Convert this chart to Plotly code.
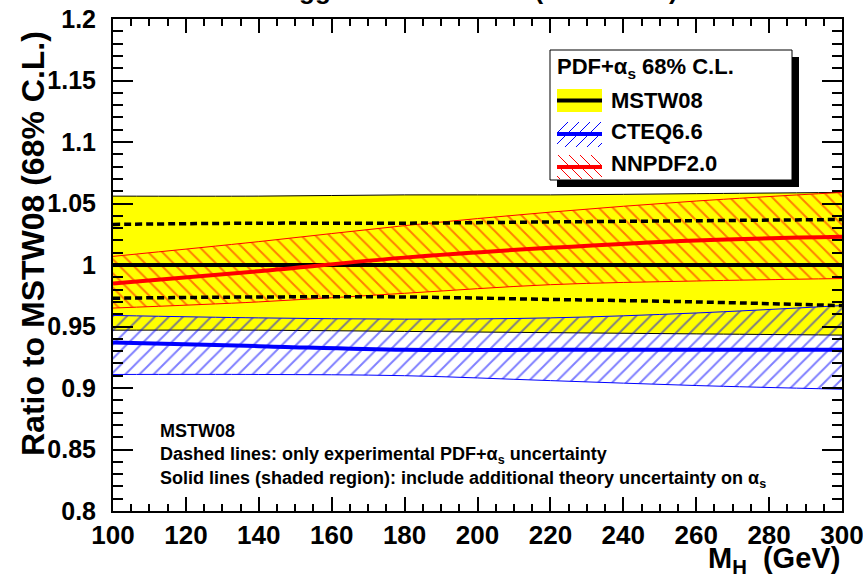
import plotly.graph_objects as go

# ---------------- data ----------------
mass = [100, 140, 180, 220, 260, 300]

mstw_central = [1.000, 1.000, 1.000, 1.000, 1.000, 1.000]
mstw_tot_hi = [1.056, 1.056, 1.057, 1.057, 1.058, 1.059]
mstw_tot_lo = [0.947, 0.947, 0.946, 0.945, 0.944, 0.943]
mstw_exp_hi = [1.033, 1.034, 1.034, 1.035, 1.036, 1.037]
mstw_exp_lo = [0.973, 0.974, 0.974, 0.972, 0.970, 0.967]

cteq_central = [0.937, 0.934, 0.931, 0.931, 0.931, 0.931]
cteq_hi = [0.959, 0.957, 0.956, 0.957, 0.961, 0.967]
cteq_lo = [0.911, 0.911, 0.910, 0.906, 0.902, 0.899]

nnpdf_central = [0.985, 0.995, 1.006, 1.014, 1.020, 1.023]
nnpdf_hi = [1.007, 1.019, 1.032, 1.043, 1.052, 1.059]
nnpdf_lo = [0.965, 0.970, 0.977, 0.984, 0.987, 0.989]

y_ticks = [0.8, 0.85, 0.9, 0.95, 1.0, 1.05, 1.1, 1.15, 1.2]
y_ticktext = ["0.8", "0.85", "0.9", "0.95", "1", "1.05", "1.1", "1.15", "1.2"]
x_ticks = [100, 120, 140, 160, 180, 200, 220, 240, 260, 280, 300]

# ---------------- layout geometry ----------------
W, H = 863, 581
L, R, T, B = 113, 21, 19, 70
PW, PH = W - L - R, H - T - B
FONT = "Liberation Sans, Arial, Helvetica, sans-serif"


def px(xp):
    return (xp - L) / PW


def py(yp):
    return (H - B - yp) / PH


fig = go.Figure()

# MSTW08 total band (yellow)
fig.add_trace(go.Scatter(x=mass, y=mstw_tot_lo, mode="lines", line=dict(color="black", width=1, shape="spline"),
                         showlegend=False, hoverinfo="skip"))
fig.add_trace(go.Scatter(x=mass, y=mstw_tot_hi, mode="lines", line=dict(color="black", width=1, shape="spline"),
                         fill="tonexty", fillcolor="#ffff00", showlegend=False, hoverinfo="skip"))

# CTEQ6.6 band (blue hatch)
fig.add_trace(go.Scatter(x=mass, y=cteq_lo, mode="lines", line=dict(color="#0000ff", width=1, shape="spline"),
                         showlegend=False, hoverinfo="skip"))
fig.add_trace(go.Scatter(x=mass, y=cteq_hi, mode="lines", line=dict(color="#0000ff", width=1, shape="spline"),
                         fill="tonexty",
                         fillpattern=dict(shape="/", fgcolor="#0000ff", bgcolor="rgba(0,0,0,0)", size=10, solidity=0.2),
                         showlegend=False, hoverinfo="skip"))

# NNPDF2.0 band (red hatch)
fig.add_trace(go.Scatter(x=mass, y=nnpdf_lo, mode="lines", line=dict(color="#ff0000", width=1, shape="spline"),
                         showlegend=False, hoverinfo="skip"))
fig.add_trace(go.Scatter(x=mass, y=nnpdf_hi, mode="lines", line=dict(color="#ff0000", width=1, shape="spline"),
                         fill="tonexty",
                         fillpattern=dict(shape="\\", fgcolor="#ff0000", bgcolor="rgba(0,0,0,0)", size=10, solidity=0.2),
                         showlegend=False, hoverinfo="skip"))

# MSTW08 experimental-only (dashed)
for arr in (mstw_exp_hi, mstw_exp_lo):
    fig.add_trace(go.Scatter(x=mass, y=arr, mode="lines",
                             line=dict(color="black", width=3.5, dash="7px,4px", shape="spline"),
                             showlegend=False, hoverinfo="skip"))

# central lines
fig.add_trace(go.Scatter(x=mass, y=mstw_central, mode="lines", line=dict(color="black", width=4),
                         showlegend=False, hoverinfo="skip"))
fig.add_trace(go.Scatter(x=mass, y=cteq_central, mode="lines", line=dict(color="#0000ff", width=4, shape="spline"),
                         showlegend=False, hoverinfo="skip"))
fig.add_trace(go.Scatter(x=mass, y=nnpdf_central, mode="lines", line=dict(color="#ff0000", width=4, shape="spline"),
                         showlegend=False, hoverinfo="skip"))

shapes = []
annotations = []

# ---------------- custom legend ----------------
shapes.append(dict(type="rect", xref="paper", yref="paper", x0=px(557), x1=px(799), y0=py(187), y1=py(57),
                   fillcolor="black", line=dict(width=0), layer="above"))
shapes.append(dict(type="rect", xref="paper", yref="paper", x0=px(550), x1=px(792), y0=py(180), y1=py(50),
                   fillcolor="white", line=dict(color="black", width=1), layer="above"))
# MSTW08 symbol
shapes.append(dict(type="rect", xref="paper", yref="paper", x0=px(557), x1=px(602), y0=py(112), y1=py(89),
                   fillcolor="#ffff00", line=dict(width=0), layer="above"))
shapes.append(dict(type="line", xref="paper", yref="paper", x0=px(557), x1=px(602), y0=py(100.5), y1=py(100.5),
                   line=dict(color="black", width=4), layer="above"))


def hatch(x0, x1, ytop, ybot, spacing, forward, color):
    hgt = ybot - ytop
    out = []
    s = x0 - hgt
    while s < x1:
        xa, ya, xb, yb = s, ybot, s + hgt, ytop
        if xa < x0:
            ya = ya - (x0 - xa)
            xa = x0
        if xb > x1:
            yb = yb + (xb - x1)
            xb = x1
        if xb > xa:
            if not forward:
                xa, xb = x0 + x1 - xa, x0 + x1 - xb
            out.append(dict(type="line", xref="paper", yref="paper", x0=px(xa), x1=px(xb), y0=py(ya), y1=py(yb),
                            line=dict(color=color, width=1), layer="above"))
        s += spacing
    return out


shapes += hatch(557, 602, 122, 147, 11, True, "#0000ff")
shapes.append(dict(type="line", xref="paper", yref="paper", x0=px(557), x1=px(602), y0=py(134), y1=py(134),
                   line=dict(color="#0000ff", width=4), layer="above"))
shapes += hatch(557, 602, 155, 179, 11, False, "#ff0000")
shapes.append(dict(type="line", xref="paper", yref="paper", x0=px(557), x1=px(602), y0=py(167), y1=py(167),
                   line=dict(color="#ff0000", width=4), layer="above"))

annotations.append(dict(text="PDF+α<sub>s</sub> 68% C.L.", xref="paper", yref="paper", x=px(555), y=py(68),
                        xanchor="left", yanchor="middle", showarrow=False,
                        font=dict(family=FONT, size=22, color="black", weight="bold")))
for label, yc in (("MSTW08", 101), ("CTEQ6.6", 132), ("NNPDF2.0", 163)):
    annotations.append(dict(text=label, xref="paper", yref="paper", x=px(609), y=py(yc),
                            xanchor="left", yanchor="middle", showarrow=False,
                            font=dict(family=FONT, size=22, color="black", weight="bold")))

# ---------------- in-plot notes ----------------
note_font = dict(family=FONT, size=18, color="black", weight="bold")
for txt, yc in (("MSTW08", 431),
                ("Dashed lines: only experimental PDF+α<sub>s</sub> uncertainty", 455),
                ("Solid lines (shaded region): include additional theory uncertainty on α<sub>s</sub>", 479)):
    annotations.append(dict(text=txt, xref="paper", yref="paper", x=px(158), y=py(yc),
                            xanchor="left", yanchor="middle", showarrow=False, font=note_font))

# axis titles
annotations.append(dict(text="Ratio to MSTW08 (68% C.L.)", xref="paper", yref="paper", x=px(33), y=py(244),
                        xanchor="center", yanchor="middle", textangle=-90, showarrow=False,
                        font=dict(family=FONT, size=32, color="black", weight="bold")))
annotations.append(dict(text="M<sub>H</sub>&nbsp;&nbsp;(GeV)", xref="paper", yref="paper", x=px(842), y=py(560),
                        xanchor="right", yanchor="middle", showarrow=False,
                        font=dict(family=FONT, size=29, color="black", weight="bold")))

# top title (mostly cut off by the page edge, as in the reference)
annotations.append(dict(text="gg → H at the LHC (√s = 7 TeV)", xref="paper", yref="paper", x=px(488), y=py(-10),
                        xanchor="center", yanchor="middle", showarrow=False,
                        font=dict(family=FONT, size=26, color="black", weight="bold")))

axis_common = dict(showgrid=False, zeroline=False, showline=True, linecolor="black", linewidth=2,
                   mirror="allticks", ticks="inside", tickcolor="black", tickwidth=1.5,
                   ticklabeloverflow="allow")

fig.update_layout(
    width=W, height=H,
    margin=dict(l=L, r=R, t=T, b=B, autoexpand=False),
    paper_bgcolor="white", plot_bgcolor="white",
    showlegend=False,
    shapes=shapes, annotations=annotations,
    xaxis=dict(range=[100, 300], tickvals=x_ticks, ticklen=14,
               minor=dict(dtick=5, tick0=100, ticks="inside", ticklen=7, tickcolor="black", tickwidth=1.5),
               tickfont=dict(family=FONT, size=26, color="black", weight="bold"),
               ticklabelstandoff=0, **axis_common),
    yaxis=dict(range=[0.8, 1.2], tickvals=y_ticks, ticktext=y_ticktext, ticklen=20,
               minor=dict(dtick=0.01, tick0=0.8, ticks="inside", ticklen=10, tickcolor="black", tickwidth=1.5),
               tickfont=dict(family=FONT, size=25, color="black", weight="bold"),
               ticklabelstandoff=10, **axis_common),
)

fig.write_html("out.html")
